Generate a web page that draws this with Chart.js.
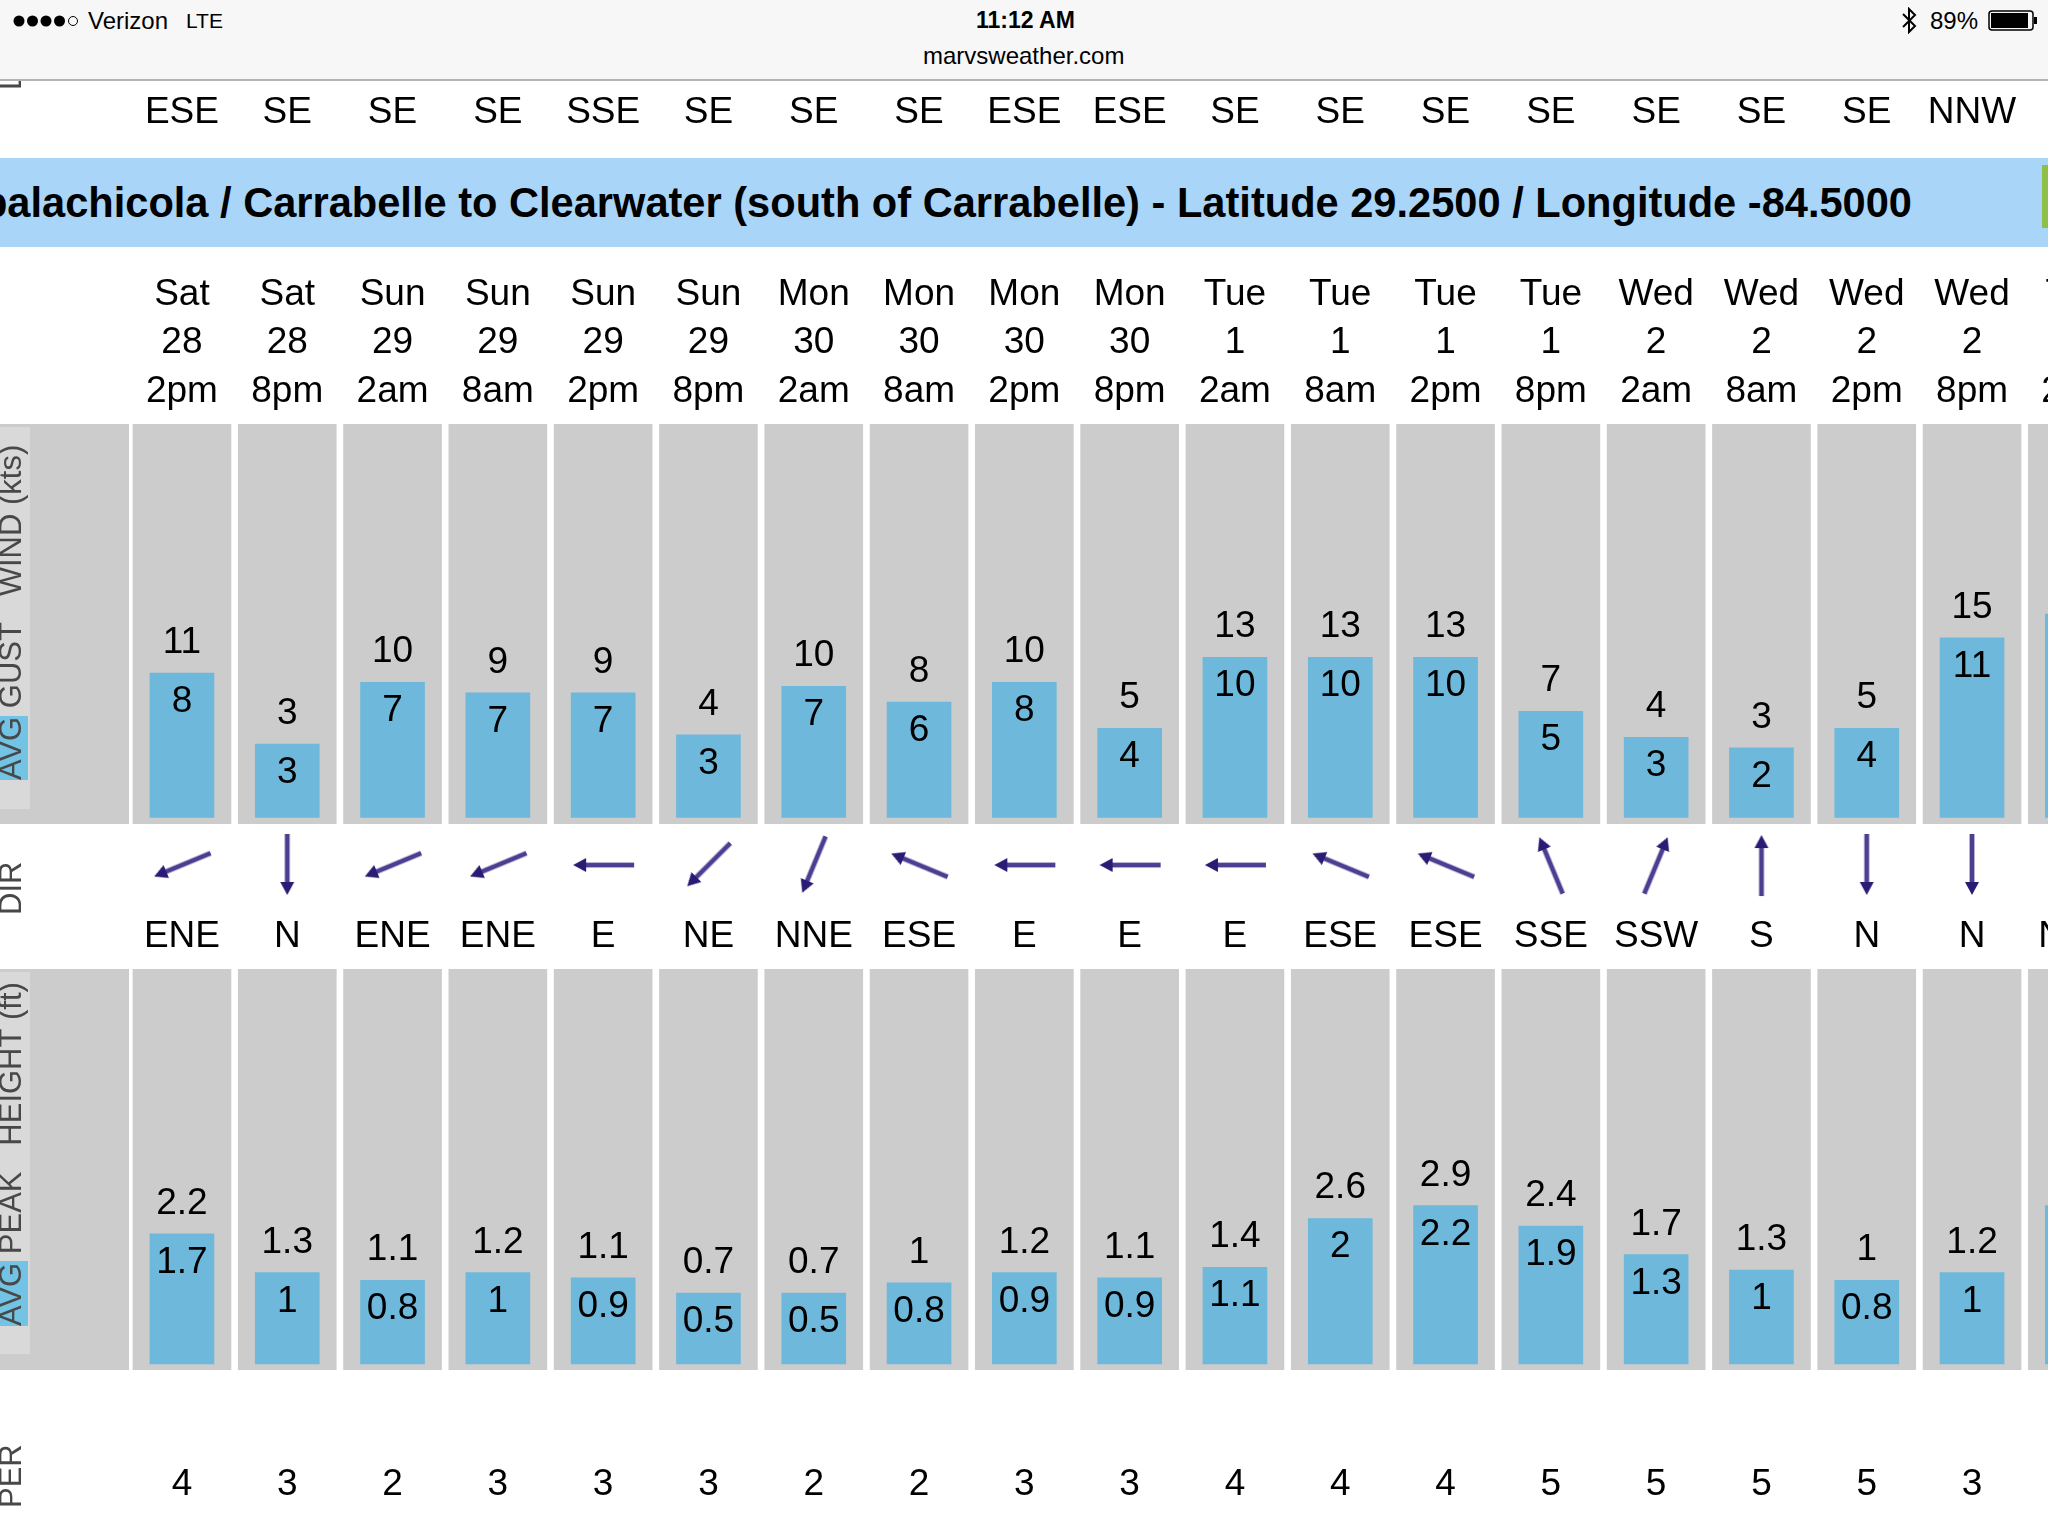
<!DOCTYPE html>
<html>
<head>
<meta charset="utf-8">
<title>marvsweather.com</title>
<script src="https://cdn.jsdelivr.net/npm/chart.js@4"></script>
<style>
html, body { margin: 0; padding: 0; width: 2048px; height: 1536px; overflow: hidden; background: #fff; }
body { position: relative; font-family: "Liberation Sans", Arial, sans-serif; color: #000; }
#chart { position: absolute; left: 0; top: 0; }
#status { position: absolute; left: 0; top: 0; width: 2048px; height: 79px; background: #f7f7f8; border-bottom: 2px solid #b4b4b4; }
#status div, #status svg { position: absolute; white-space: nowrap; }
#banner { position: absolute; left: 0; top: 158px; width: 2048px; height: 89px; background: #a9d5f8; overflow: hidden; }
#banner span { position: absolute; right: 136px; top: 0; line-height: 89px; font-size: 41.6px; font-weight: bold; white-space: nowrap; }
#banner i { position: absolute; left: 2042px; top: 7px; width: 6px; height: 63px; background: #8dbf4a; }
</style>
</head>
<body>
<canvas id="chart" width="2130" height="1536"></canvas>
<div id="status">
	<svg style="left:12px;top:14px" width="75" height="14">
		<circle cx="7" cy="7" r="5.5"/><circle cx="20.5" cy="7" r="5.5"/><circle cx="34" cy="7" r="5.5"/><circle cx="47.5" cy="7" r="5.5"/>
		<circle cx="61" cy="7" r="4.5" fill="none" stroke="#000" stroke-width="1"/>
	</svg>
	<div style="left:88px;top:7px;font-size:24px">Verizon</div>
	<div style="left:186px;top:9px;font-size:21px">LTE</div>
	<div style="left:976px;top:7px;font-size:23px;font-weight:bold">11:12 AM</div>
	<div style="left:923px;top:42px;font-size:24px">marvsweather.com</div>
	<svg style="left:1901px;top:7px" width="16" height="27" fill="none" stroke="#000" stroke-width="2">
		<path d="M2 7 L14 19 L8 25 L8 2 L14 8 L2 20"/>
	</svg>
	<div style="left:1930px;top:7px;font-size:24px">89%</div>
	<svg style="left:1988px;top:10px" width="50" height="22">
		<rect x="1" y="1" width="44" height="19" rx="3" fill="none" stroke="#000" stroke-width="1.5"/>
		<rect x="3" y="3" width="37" height="15" fill="#000"/>
		<rect x="46" y="7" width="3" height="7" fill="#000"/>
	</svg>
</div>
<div id="banner"><span>Apalachicola / Carrabelle to Clearwater (south of Carrabelle) - Latitude 29.2500 / Longitude -84.5000</span><i></i></div>

<script>
// first slot is the label gutter on the left, last one is the column cut off by the screen edge
var topDirs = ['', 'ESE', 'SE', 'SE', 'SE', 'SSE', 'SE', 'SE', 'SE', 'ESE', 'ESE', 'SE', 'SE', 'SE', 'SE', 'SE', 'SE', 'SE', 'NNW', ''];
var days = ['', 'Sat', 'Sat', 'Sun', 'Sun', 'Sun', 'Sun', 'Mon', 'Mon', 'Mon', 'Mon', 'Tue', 'Tue', 'Tue', 'Tue', 'Wed', 'Wed', 'Wed', 'Wed', 'Thu'];
var dates = ['', '28', '28', '29', '29', '29', '29', '30', '30', '30', '30', '1', '1', '1', '1', '2', '2', '2', '2', '3'];
var hours = ['', '2pm', '8pm', '2am', '8am', '2pm', '8pm', '2am', '8am', '2pm', '8pm', '2am', '8am', '2pm', '8pm', '2am', '8am', '2pm', '8pm', '2am'];

var windAvg = [null, 8.4, 3.0, 7.7, 6.9, 6.9, 3.7, 7.4, 6.2, 7.7, 4.2, 9.6, 9.6, 9.6, 5.5, 3.5, 2.7, 4.2, 11.1, 12.9];
var windAvgText = ['', '8', '3', '7', '7', '7', '3', '7', '6', '8', '4', '10', '10', '10', '5', '3', '2', '4', '11', ''];
var windGustText = ['', '11', '3', '10', '9', '9', '4', '10', '8', '10', '5', '13', '13', '13', '7', '4', '3', '5', '15', ''];

var windDirs = ['', 'ENE', 'N', 'ENE', 'ENE', 'E', 'NE', 'NNE', 'ESE', 'E', 'E', 'E', 'ESE', 'ESE', 'SSE', 'SSW', 'S', 'N', 'N', 'NNE'];

var waveAvg = [null, 1.65, 0.9, 0.75, 0.9, 0.8, 0.5, 0.5, 0.7, 0.9, 0.8, 1.0, 1.95, 2.2, 1.8, 1.25, 0.95, 0.75, 0.9, 2.2];
var waveAvgText = ['', '1.7', '1', '0.8', '1', '0.9', '0.5', '0.5', '0.8', '0.9', '0.9', '1.1', '2', '2.2', '1.9', '1.3', '1', '0.8', '1', ''];
var wavePeakText = ['', '2.2', '1.3', '1.1', '1.2', '1.1', '0.7', '0.7', '1', '1.2', '1.1', '1.4', '2.6', '2.9', '2.4', '1.7', '1.3', '1', '1.2', ''];

var periods = ['', '4', '3', '2', '3', '3', '3', '2', '2', '3', '3', '4', '4', '4', '5', '5', '5', '5', '3', ''];

var compass = { N: 0, NNE: 22.5, NE: 45, ENE: 67.5, E: 90, ESE: 112.5, SE: 135, SSE: 157.5, S: 180, SSW: 202.5, SW: 225, WSW: 247.5, W: 270, WNW: 292.5, NW: 315, NNW: 337.5 };

var GRAY = '#cccccc';
var BLUE = '#6eb8db';
var FONT = '"Liberation Sans", Arial, sans-serif';

var windRange = { min: -3.1, max: 27.4, base: -2.6 };
var waveRange = { min: -0.99, max: 6.79, base: -0.87 };

// arrow pointing up, the wind direction rotates it
function makeArrow() {
	var c = document.createElement('canvas');
	c.width = 24;
	c.height = 66;
	var g = c.getContext('2d');
	g.filter = 'blur(0.6px)';
	g.fillStyle = '#4b3f92';
	g.fillRect(9.6, 10, 4.8, 54);
	g.fillStyle = '#2c1b74';
	g.beginPath();
	g.moveTo(12, 3);
	g.lineTo(19, 16);
	g.lineTo(5, 16);
	g.closePath();
	g.fill();
	return c;
}

var arrow = makeArrow();

function textRow(ctx, scale, labels, y) {
	for (var i = 0; i < labels.length; i++) {
		ctx.fillText(labels[i], scale.getPixelForValue(i), y);
	}
}

// rotated caption at the left edge, reading bottom to top
function sideText(ctx, text, bottom) {
	ctx.save();
	ctx.translate(21, bottom);
	ctx.rotate(-Math.PI / 2);
	ctx.textAlign = 'left';
	ctx.font = '31px ' + FONT;
	ctx.fillStyle = '#484848';
	ctx.filter = 'blur(0.6px)';
	ctx.fillText(text, 0, 0);
	ctx.restore();
}

var pagePlugin = {
	id: 'page',
	beforeDatasetsDraw: function(chart) {
		var ctx = chart.ctx;
		var wind = chart.scales.yWind;
		var wave = chart.scales.yWave;
		ctx.save();
		ctx.fillStyle = GRAY;
		ctx.fillRect(0, wind.top, 129, wind.bottom - wind.top);
		ctx.fillRect(0, wave.top, 129, wave.bottom - wave.top);
		ctx.fillStyle = '#d9d9d9';
		ctx.fillRect(0, wind.top + 3, 30, 382);
		ctx.fillRect(0, wave.top + 3, 30, 382);
		ctx.fillStyle = '#72c3e4';
		ctx.fillRect(0, 716, 28, 64);
		ctx.fillRect(0, 1261, 28, 65);
		ctx.restore();
	},
	afterDatasetsDraw: function(chart) {
		var ctx = chart.ctx;
		var x = chart.scales.x;
		ctx.save();
		ctx.fillStyle = '#000';
		ctx.textAlign = 'center';
		ctx.textBaseline = 'alphabetic';
		ctx.font = '37px ' + FONT;

		textRow(ctx, x, topDirs, 123);
		textRow(ctx, x, days, 305);
		textRow(ctx, x, dates, 353);
		textRow(ctx, x, hours, 402);
		textRow(ctx, x, windDirs, 947);
		textRow(ctx, x, periods, 1495);

		// values sit just above and inside the top of each bar
		[[1, windGustText, windAvgText], [3, wavePeakText, waveAvgText]].forEach(function(row) {
			chart.getDatasetMeta(row[0]).data.forEach(function(bar, i) {
				if (row[1][i] === '') return;
				ctx.fillText(row[1][i], bar.x, bar.y - 20);
				ctx.fillText(row[2][i], bar.x, bar.y + 39);
			});
		});
		ctx.restore();

		sideText(ctx, 'L', 90);
		sideText(ctx, 'AVG GUST   WIND (kts)', 780);
		sideText(ctx, 'DIR', 915);
		sideText(ctx, 'AVG PEAK   HEIGHT (ft)', 1326);
		sideText(ctx, 'PER', 1508);
	}
};

function fullColumn(top) {
	return days.map(function(d) { return d === '' ? null : top; });
}

var chart = new Chart(document.getElementById('chart').getContext('2d'), {
	type: 'bar',
	data: {
		labels: hours,
		datasets: [
			{ label: 'Wind column', data: fullColumn(windRange.max), yAxisID: 'yWind', base: windRange.min, backgroundColor: GRAY, barThickness: 98, order: 4 },
			{ label: 'Avg wind (kts)', data: windAvg, yAxisID: 'yWind', base: windRange.base, backgroundColor: BLUE, barThickness: 64, order: 3 },
			{ label: 'Wave column', data: fullColumn(waveRange.max), yAxisID: 'yWave', base: waveRange.min, backgroundColor: GRAY, barThickness: 98, order: 4 },
			{ label: 'Avg height (ft)', data: waveAvg, yAxisID: 'yWave', base: waveRange.base, backgroundColor: BLUE, barThickness: 64, order: 3 },
			{
				type: 'line',
				label: 'Wind direction',
				data: windDirs.map(function(d) { return d === '' ? null : 0; }),
				yAxisID: 'yDir',
				showLine: false,
				pointStyle: arrow,
				pointRadius: 30,
				pointRotation: windDirs.map(function(d) { return compass[d] + 180; }),
				order: 1
			}
		]
	},
	options: {
		responsive: false,
		animation: false,
		devicePixelRatio: 1,
		layout: { autoPadding: false, padding: { left: 24, right: 0, top: 424, bottom: 166 } },
		plugins: { legend: { display: false }, tooltip: { enabled: false } },
		datasets: { bar: { grouped: false } },
		scales: {
			x: { type: 'category', display: false, offset: true, grid: { display: false } },
			yWind: { type: 'linear', display: false, position: 'left', stack: 'rows', stackWeight: 400, weight: 3, min: windRange.min, max: windRange.max },
			yDir: { type: 'linear', display: false, position: 'left', stack: 'rows', stackWeight: 145, weight: 2, min: -0.717, max: 0.283 },
			yWave: { type: 'linear', display: false, position: 'left', stack: 'rows', stackWeight: 401, weight: 1, min: waveRange.min, max: waveRange.max }
		}
	},
	plugins: [pagePlugin]
});
</script>
</body>
</html>
